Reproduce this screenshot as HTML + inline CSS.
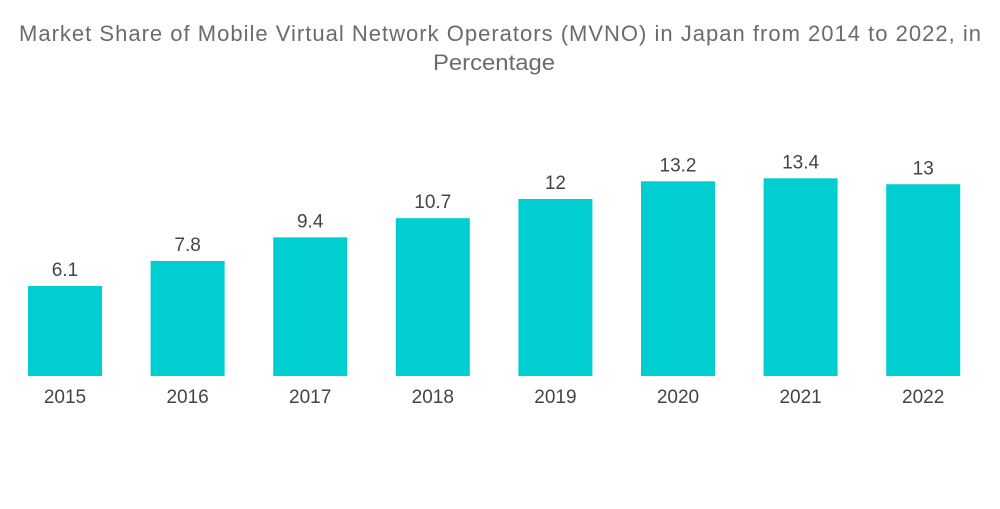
<!DOCTYPE html>
<html><head><meta charset="utf-8"><style>
body{margin:0;background:#fff;width:1000px;height:504px;overflow:hidden;font-family:"Liberation Sans",sans-serif;}
</style></head><body>
<svg width="1000" height="504">
<text x="500" y="41" text-anchor="middle" font-size="22" fill="#6b6b6b" textLength="962" lengthAdjust="spacing">Market Share of Mobile Virtual Network Operators (MVNO) in Japan from 2014 to 2022, in</text>
<text x="494" y="70" text-anchor="middle" font-size="22" fill="#6b6b6b" textLength="122" lengthAdjust="spacingAndGlyphs">Percentage</text>
<g id="bars"></g>
</svg>
<script>
const categories=["2015","2016","2017","2018","2019","2020","2021","2022"];
const values=[6.1,7.8,9.4,10.7,12,13.2,13.4,13];
const labels=["6.1","7.8","9.4","10.7","12","13.2","13.4","13"];
const base=376, scale=14.75, x0=65, step=122.6, bw=74;
const g=document.getElementById('bars');
const ns="http://www.w3.org/2000/svg";
function xc(i){return x0+i*step;}
function yv(v){return base-v*scale;}
categories.forEach((c,i)=>{
  const r=document.createElementNS(ns,'rect');
  r.setAttribute('x',xc(i)-bw/2);r.setAttribute('y',yv(values[i]));
  r.setAttribute('width',bw);r.setAttribute('height',base-yv(values[i]));
  r.setAttribute('fill','#00ced1');
  
  
  g.appendChild(r);
  const t=document.createElementNS(ns,'text');
  t.setAttribute('x',xc(i));t.setAttribute('y',yv(values[i])-10);
  t.setAttribute('text-anchor','middle');t.setAttribute('font-size','19');t.setAttribute('fill','#444');
  t.textContent=labels[i];
  
  
  g.appendChild(t);
  const a=document.createElementNS(ns,'text');
  a.setAttribute('x',xc(i));a.setAttribute('y',base+27);
  a.setAttribute('text-anchor','middle');a.setAttribute('font-size','19');a.setAttribute('fill','#444');
  a.textContent=c;
  
  
  g.appendChild(a);
});
</script>
</body></html>
